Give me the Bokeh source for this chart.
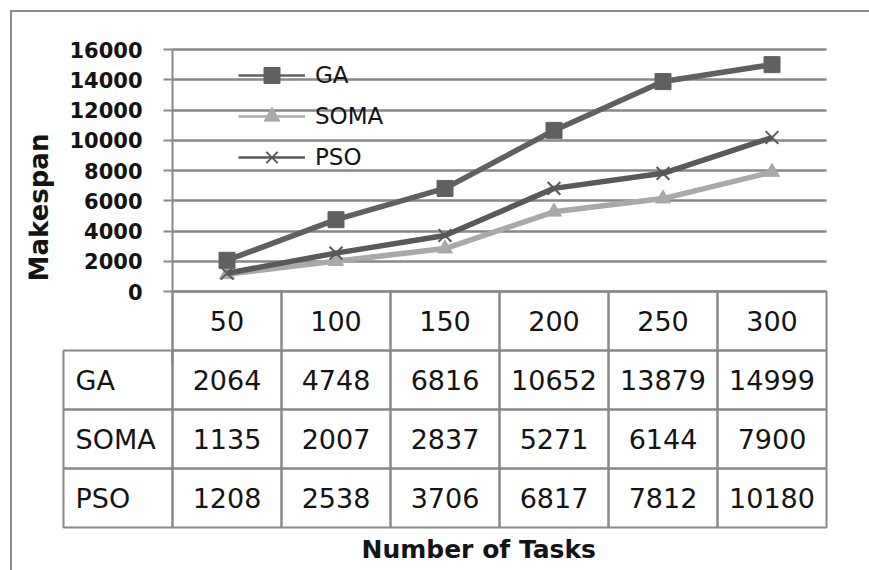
from bokeh.plotting import figure
from bokeh.models import (Range1d, FactorRange, FixedTicker, Legend, LegendItem,
                          ColumnDataSource, Title, LinearAxis, Grid)
from bokeh.layouts import column
from bokeh.embed import file_html
from bokeh.resources import INLINE
from bokeh.core.properties import value

# Makespan per number of tasks for each scheduler
tasks = ["50", "100", "150", "200", "250", "300"]
ga = [2064, 4748, 6816, 10652, 13879, 14999]
soma = [1135, 2007, 2837, 5271, 6144, 7900]
pso = [1208, 2538, 3706, 6817, 7812, 10180]
series_names = ["GA", "SOMA", "PSO"]
y_ticks = [0, 2000, 4000, 6000, 8000, 10000, 12000, 14000, 16000]

FONT = "DejaVu Sans"
TEXT = "#141414"
GRID = "#888888"
GA_C = "#606060"
SOMA_C = "#a9a9a9"
PSO_C = "#595959"

COL_W = 109    # pixel width of one task column
ROW_H = 59     # pixel height of one table row
PAD = 2        # room so table edge lines are not clipped
PAD_X = 35     # side room for the value-axis title
PAD_TOP = 12   # room above the top tick label
CHART_H = 242  # pixel height of the 0..16000 span
N_ROWS = len(series_names) + 1
TABLE_H = N_ROWS * ROW_H
FRAME_H = PAD_TOP + CHART_H + TABLE_H + PAD
W, H = 857, 558
LEFT, TOP = 16, 25
FRAME_W = (len(tasks) + 1) * COL_W + 2 * PAD_X
AXIS_LOW = -4900  # axis rule runs on down the table's column line; also lowers its title

u = y_ticks[-1] / CHART_H   # makespan units per pixel
p = figure(width=W, height=H,
           x_range=FactorRange(factors=["algorithm"] + tasks, range_padding=PAD_X / COL_W,
                               range_padding_units="absolute"),
           y_range=Range1d(-(TABLE_H + PAD) * u, y_ticks[-1] + PAD_TOP * u),
           output_backend="svg", toolbar_location=None,
           min_border_left=LEFT, min_border_right=W - LEFT - FRAME_W,
           min_border_top=TOP, min_border_bottom=H - TOP - FRAME_H,
           x_axis_location=None, y_axis_location=None, outline_line_color=None)
p.grid.visible = False
p.extra_y_ranges = {"table": Range1d(-PAD / ROW_H, (FRAME_H - PAD) / ROW_H)}

# value axis sits on the boundary between the label column and the first task column
ticker = FixedTicker(ticks=y_ticks)
ax = LinearAxis(fixed_location=1.0, bounds=(AXIS_LOW, y_ticks[-1]), ticker=ticker,
                axis_line_color=GRID, axis_line_width=2,
                major_tick_out=9, major_tick_in=0, major_tick_line_color=GRID,
                major_tick_line_width=2, minor_tick_out=0, minor_tick_in=0,
                major_label_text_font=FONT, major_label_text_font_size="21px",
                major_label_text_font_style="bold", major_label_text_color=TEXT,
                major_label_standoff=21,
                axis_label="Makespan", axis_label_text_font=FONT,
                axis_label_text_font_size="26px", axis_label_text_font_style="bold",
                axis_label_text_color=TEXT, axis_label_standoff=12)
p.add_layout(ax, "left")
p.add_layout(Grid(dimension=1, ticker=ticker, cross_bounds=(1, len(tasks) + 1),
                  grid_line_color=GRID, grid_line_width=2.5))

# series lines with markers
src = ColumnDataSource(dict(task=tasks, GA=ga, SOMA=soma, PSO=pso))
styles = {
    "GA": dict(color=GA_C, marker="square", size=16, mline=1),
    "SOMA": dict(color=SOMA_C, marker="triangle", size=15, mline=1),
    "PSO": dict(color=PSO_C, marker="x", size=18, mline=2),
}
for name in ["SOMA", "PSO", "GA"]:
    st = styles[name]
    p.line("task", name, source=src, line_color=st["color"], line_width=5.5)
    p.scatter("task", name, source=src, marker=st["marker"], size=st["size"],
              fill_color=st["color"], line_color=st["color"], line_width=st["mline"])

# legend entries drawn with thinner lines
blank = ColumnDataSource(dict(task=[tasks[0]], v=[float("nan")]))
items = []
for name in series_names:
    st = styles[name]
    lr = p.line("task", "v", source=blank, line_color=st["color"], line_width=2.5)
    mr = p.scatter("task", "v", source=blank, marker=st["marker"], size=st["size"],
                   fill_color=st["color"], line_color=st["color"], line_width=st["mline"])
    items.append(LegendItem(label=name, renderers=[lr, mr]))
legend = Legend(items=items, location=(240 - 12 - LEFT - 2, 352), glyph_width=67, glyph_height=40,
                label_height=22, label_standoff=10, spacing=1, padding=0, margin=0,
                background_fill_alpha=0, border_line_color=None,
                label_text_font=FONT, label_text_font_size="23px", label_text_color=TEXT)
p.add_layout(legend)

# data table under the chart
head_y = N_ROWS - 0.5
cell_x, cell_y, cell_t, lab_y = [], [], [], []
for i, vals in enumerate([ga, soma, pso]):
    yy = N_ROWS - 1 - i - 0.5
    lab_y.append(yy)
    for t, v in zip(tasks, vals):
        cell_x.append(t)
        cell_y.append(yy)
        cell_t.append(str(v))

box = dict(width=1, height=1, fill_color=None, line_color=GRID, line_width=2, y_range_name="table")
p.rect(x=tasks, y=[head_y] * len(tasks), **box)
p.rect(x=cell_x, y=cell_y, **box)
p.rect(x=["algorithm"] * len(lab_y), y=lab_y, **box)

txt = dict(text_font=value(FONT), text_font_size="27px", text_color=TEXT,
           text_baseline="middle", y_range_name="table")
p.text(x=tasks, y=[head_y] * len(tasks), text=tasks, text_align="center", **txt)
p.text(x=cell_x, y=cell_y, text=cell_t, text_align="center", **txt)
p.text(x=["algorithm"] * len(lab_y), y=lab_y, text=series_names, text_align="left",
       x_offset=-COL_W / 2 + 12, **txt)

p.add_layout(Title(text="Number of Tasks", align="left", offset=363 - 12 - LEFT - 2, standoff=6,
                   text_font=FONT, text_font_size="25px", text_font_style="bold",
                   text_color=TEXT), "below")

layout = column(p, styles={"border-left": "2px solid #8c8c8c", "border-top": "2px solid #8c8c8c",
                           "margin-left": "10px", "margin-top": "10px"})

open("out.html", "w").write(file_html(layout, INLINE))
